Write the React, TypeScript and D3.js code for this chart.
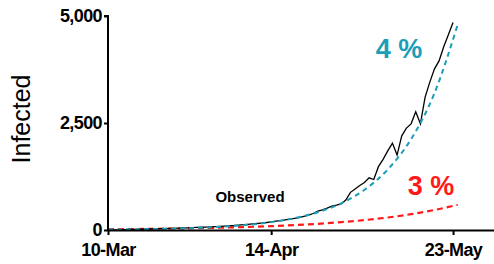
import React, { useEffect, useRef } from "react";
import * as d3 from "d3";

// days counted from 10-Mar
const startDate = new Date(2020, 2, 10);
const endDate = new Date(2020, 5, 1);

const observed = [
  2, 3, 5, 7, 9, 12, 15, 18, 21, 24,
  27, 30, 33, 36, 39, 42, 46, 50, 54, 59,
  64, 69, 74, 80, 86, 92, 98, 105, 115, 124,
  133, 142, 152, 163, 175, 192, 205, 220, 236, 252,
  270, 290, 318, 345, 385, 440, 470, 510, 555, 580,
  610, 700, 880, 960, 1040, 1110, 1220, 1180, 1480, 1650,
  1850, 2030, 1750, 2200, 2380, 2480, 2760, 2480, 3100, 3450,
  3760, 3950, 4280, 4560, 4850,
];

const modelDays = [0, 5, 10, 15, 20, 25, 30, 35, 40, 45, 50, 55, 60, 65, 70, 75];
const model4 = [11, 16, 24, 36, 54, 81, 122, 184, 276, 415, 624, 939, 1412, 2123, 3192, 4800];
const model3 = [18, 22, 28, 35, 45, 57, 72, 90, 114, 145, 183, 231, 292, 369, 467, 590];

const yTicks = [0, 2500, 5000];
const xTickLabels = ["10-Mar", "14-Apr", "23-May"];
const xTickDays = [0, 35, 74];

const dayToDate = (d: number) => d3.timeDay.offset(startDate, d);

export default function App() {
  const ref = useRef<SVGSVGElement>(null);

  useEffect(() => {
    const width = 494;
    const height = 264;
    const margin = { top: 16, right: 0, bottom: 34, left: 108 };

    const svg = d3.select(ref.current);
    svg.selectAll("*").remove();

    const x = d3.scaleTime().domain([startDate, endDate]).range([margin.left, width - margin.right + 1]);
    const y = d3.scaleLinear().domain([0, 5000]).range([height - margin.bottom, margin.top]);

    const font = "'Liberation Sans', Arial, sans-serif";

    // lines
    const line = d3.line<[number, number]>()
      .x(d => x(dayToDate(d[0])))
      .y(d => y(d[1]));
    const smooth = d3.line<[number, number]>()
      .x(d => x(dayToDate(d[0])))
      .y(d => y(d[1]))
      .curve(d3.curveMonotoneX);

    svg.append("path")
      .datum(modelDays.map((d, i) => [d, model3[i]] as [number, number]))
      .attr("d", smooth)
      .attr("fill", "none")
      .attr("stroke", "#ff1a1a")
      .attr("stroke-width", 2.2)
      .attr("stroke-dasharray", "6,4");

    svg.append("path")
      .datum(observed.map((v, i) => [i, v] as [number, number]))
      .attr("d", line)
      .attr("fill", "none")
      .attr("stroke", "#000")
      .attr("stroke-width", 1.3);

    svg.append("path")
      .datum(modelDays.map((d, i) => [d, model4[i]] as [number, number]))
      .attr("d", smooth)
      .attr("fill", "none")
      .attr("stroke", "#1b9eb8")
      .attr("stroke-width", 2)
      .attr("stroke-dasharray", "5,4");

    // axes
    const yAxis = d3.axisLeft(y).tickValues(yTicks).tickFormat(d3.format(",")).tickSize(4).tickPadding(2);
    const gy = svg.append("g").attr("transform", `translate(${margin.left},0)`).call(yAxis);
    gy.select(".domain").attr("stroke-width", 2).attr("d", `M-4,${y(5000)}H0V${y(0)}`);
    gy.selectAll(".tick line").attr("stroke-width", 2);
    gy.selectAll(".tick text")
      .attr("font-family", font)
      .attr("font-weight", "bold")
      .attr("font-size", 18)
      .attr("letter-spacing", -0.6)
      .attr("fill", "#000");

    const xAxis = d3.axisBottom(x)
      .tickValues(xTickDays.map(dayToDate))
      .tickFormat((_d, i) => xTickLabels[i])
      .tickSize(5)
      .tickSizeOuter(0)
      .tickPadding(8);
    const gx = svg.append("g").attr("transform", `translate(0,${y(0)})`).call(xAxis);
    gx.select(".domain").attr("stroke-width", 2);
    gx.selectAll(".tick line").attr("stroke-width", 2);
    gx.selectAll(".tick text")
      .attr("font-family", font)
      .attr("font-weight", "bold")
      .attr("font-size", 18)
      .attr("letter-spacing", -0.6)
      .attr("fill", "#000");

    // labels
    svg.append("text")
      .attr("transform", `translate(30,${(margin.top + height - margin.bottom) / 2 - 4}) rotate(-90)`)
      .attr("text-anchor", "middle")
      .attr("font-family", font)
      .attr("font-size", 25)
      .text("Infected");

    svg.append("text")
      .attr("x", 399).attr("y", 58)
      .attr("text-anchor", "middle")
      .attr("font-family", font)
      .attr("font-weight", "bold")
      .attr("font-size", 27)
      .attr("fill", "#1b9eb8")
      .text("4 %");

    svg.append("text")
      .attr("x", 431).attr("y", 195)
      .attr("text-anchor", "middle")
      .attr("font-family", font)
      .attr("font-weight", "bold")
      .attr("font-size", 27)
      .attr("fill", "#ff1a1a")
      .text("3 %");

    svg.append("text")
      .attr("x", 250).attr("y", 202)
      .attr("text-anchor", "middle")
      .attr("font-family", font)
      .attr("font-weight", "bold")
      .attr("font-size", 15)
      .attr("fill", "#000")
      .text("Observed");
  }, []);

  return (
    <svg
      ref={ref}
      width={494}
      height={264}
      style={{ position: "absolute", left: 0, top: 0, background: "#fff" }}
    />
  );
}
